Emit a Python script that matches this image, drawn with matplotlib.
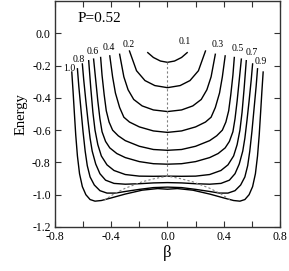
import numpy as np
import matplotlib.pyplot as plt

plt.rcParams['font.family'] = ['Liberation Serif', 'DejaVu Serif']
plt.rcParams['axes.unicode_minus'] = False

# curve labels and half-curves (beta >= 0), mirrored since the plot is symmetric
labels = ['0.1', '0.2', '0.3', '0.4', '0.5', '0.6', '0.7', '0.8', '0.9', '1.0']

beta_01 = [0, 0.05, 0.1, 0.14]
E_01 = [-0.18, -0.172, -0.15, -0.12]
beta_02 = [0, 0.09, 0.16, 0.22, 0.27]
E_02 = [-0.337, -0.324, -0.293, -0.232, -0.11]
beta_03 = [0, 0.1, 0.18, 0.24, 0.28, 0.31, 0.34]
E_03 = [-0.485, -0.475, -0.45, -0.41, -0.35, -0.27, -0.13]
beta_04 = [0, 0.1, 0.2, 0.27, 0.31, 0.34, 0.37, 0.39, 0.41]
E_04 = [-0.614, -0.605, -0.58, -0.55, -0.52, -0.46, -0.37, -0.27, -0.14]
beta_05 = [0, 0.1, 0.2, 0.3, 0.35, 0.39, 0.415, 0.435, 0.45, 0.465, 0.475]
E_05 = [-0.725, -0.72, -0.70, -0.665, -0.635, -0.60, -0.55, -0.48, -0.38, -0.26, -0.15]
beta_06 = [0, 0.1, 0.2, 0.3, 0.36, 0.41, 0.44, 0.465, 0.48, 0.495, 0.51, 0.525]
E_06 = [-0.811, -0.808, -0.795, -0.77, -0.745, -0.71, -0.67, -0.61, -0.53, -0.42, -0.29, -0.16]
beta_07 = [0, 0.1, 0.2, 0.3, 0.38, 0.43, 0.47, 0.495, 0.515, 0.53, 0.545, 0.56]
E_07 = [-0.885, -0.886, -0.885, -0.875, -0.85, -0.815, -0.76, -0.69, -0.60, -0.49, -0.34, -0.17]
beta_08 = [0, 0.1, 0.2, 0.3, 0.38, 0.44, 0.48, 0.51, 0.535, 0.55, 0.565, 0.58, 0.595, 0.605]
E_08 = [-0.925, -0.927, -0.932, -0.935, -0.93, -0.91, -0.87, -0.81, -0.73, -0.65, -0.54, -0.42, -0.29, -0.19]
beta_09 = [0, 0.1, 0.2, 0.3, 0.37, 0.43, 0.48, 0.52, 0.55, 0.57, 0.585, 0.6, 0.615, 0.63, 0.64]
E_09 = [-0.953, -0.956, -0.967, -0.98, -0.99, -0.99, -0.975, -0.94, -0.89, -0.82, -0.73, -0.61, -0.47, -0.33, -0.22]
beta_10 = [0, 0.07, 0.18, 0.3, 0.4, 0.47, 0.515, 0.55, 0.58, 0.605, 0.625, 0.64, 0.652, 0.662, 0.671, 0.68]
E_10 = [-0.966, -0.962, -0.972, -0.996, -1.02, -1.036, -1.04, -1.03, -1.0, -0.95, -0.87, -0.76, -0.63, -0.49, -0.36, -0.24]

curves = [(beta_01, E_01), (beta_02, E_02), (beta_03, E_03), (beta_04, E_04),
          (beta_05, E_05), (beta_06, E_06), (beta_07, E_07), (beta_08, E_08),
          (beta_09, E_09), (beta_10, E_10)]

# dotted line through the bottom
dash_beta = [0, 0.09, 0.18, 0.30, 0.38, 0.45]
dash_E = [-0.885, -0.90, -0.92, -0.96, -0.995, -1.035]

# label positions (beta, E)
lab_beta = [0.125, -0.274, 0.36, -0.42, 0.50, -0.535, 0.60, -0.634, 0.663, -0.70]
lab_E = [-0.053, -0.071, -0.067, -0.088, -0.092, -0.113, -0.12, -0.16, -0.174, -0.22]

fig = plt.figure(figsize=(2.89, 2.71), dpi=100)
ax = fig.add_axes([0.19, 0.1624, 0.779, 0.834])

for (b, e) in curves:
    b = np.array(b)
    e = np.array(e)
    bb = np.concatenate([-b[::-1], b[1:]])
    ee = np.concatenate([e[::-1], e[1:]])
    ax.plot(bb, ee, color='black', lw=1.0)

db = np.array(dash_beta)
de = np.array(dash_E)
ax.plot(np.concatenate([-db[::-1], db[1:]]), np.concatenate([de[::-1], de[1:]]),
        color='gray', lw=0.8, ls=(0, (2, 2)))
ax.plot([0, 0], [E_01[0], E_07[0]], color='gray', lw=0.8, ls=(0, (2, 2)))

for t, x, y in zip(labels, lab_beta, lab_E):
    ax.text(x, y, t, fontsize=7, ha='center', va='center')

ax.text(-0.487, 0.089, 'P=0.52', fontsize=11, ha='center', va='center')

ax.set_xlim(-0.8, 0.8)
ax.set_ylim(-1.2, 0.2)
ax.set_xticks(np.arange(-0.8, 0.81, 0.2))
ax.set_xticklabels(['-0.8', '', '-0.4', '', '0.0', '', '0.4', '', '0.8'])
ax.set_yticks(np.arange(-1.2, 0.01, 0.2))
ax.set_yticklabels(['-1.2', '-1.0', '-0.8', '-0.6', '-0.4', '-0.2', '0.0'])
ax.tick_params(direction='in', length=4, width=0.8, labelsize=8.5, top=True, right=True,
               colors='#333333', labelcolor='black', pad=3)
for s in ax.spines.values():
    s.set_color('#333333')
    s.set_linewidth(1.0)

ax.set_xlabel('β', fontsize=12, labelpad=1)
ax.set_ylabel('Energy', fontsize=10.5, labelpad=3)

fig.savefig('out.png', dpi=100)
